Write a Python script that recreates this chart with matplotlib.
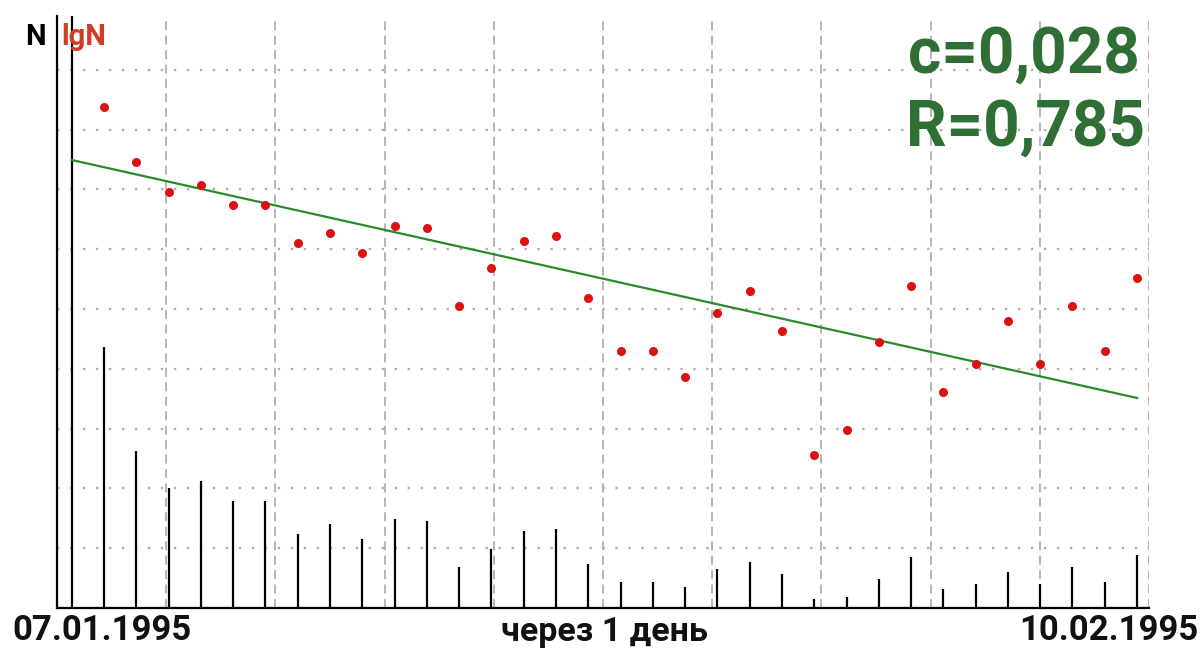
import numpy as np
import matplotlib
matplotlib.use("Agg")
import matplotlib.pyplot as plt
from matplotlib.ticker import LinearLocator, MultipleLocator

# days after 07.01.1995, one step = 1 day
days = list(range(1, 34))
# N per day (bars)
n_vals = [436, 263, 201, 212, 179, 179, 124, 140, 115, 149, 145, 69, 99, 129, 132,
          74, 43, 43, 35, 65, 77, 57, 15, 18, 48, 85, 32, 40, 60, 40, 69, 43, 89]
# lgN per day (red dots)
lgn_vals = [2.594, 2.365, 2.239, 2.268, 2.185, 2.185, 2.026, 2.068, 1.984, 2.097, 2.089,
            1.763, 1.921, 2.034, 2.055, 1.796, 1.574, 1.574, 1.466, 1.733, 1.825, 1.658,
            1.140, 1.244, 1.612, 1.846, 1.403, 1.520, 1.700, 1.520, 1.763, 1.574, 1.880]
# fitted line, ends
trend_days = [0, 33]
trend_lgn = [2.373, 1.378]

start_label = "07.01.1995"
end_label = "10.02.1995"
step_label = "через 1 день"
c_label = "c=0,028"
r_label = "R=0,785"

plt.rcParams["font.family"] = ["Roboto", "DejaVu Sans"]
plt.rcParams["xtick.major.size"] = 0
plt.rcParams["ytick.major.size"] = 0

fig = plt.figure(figsize=(12.02, 6.51), dpi=100)
ax = fig.add_axes([57 / 1202, 1 - 608 / 651, (1149 - 57) / 1202, (608 - 16) / 651])
ax.set_xlim(-0.455, 33.37)
ax.set_ylim(0, 990)

ax2 = ax.twinx()
ax2.set_ylim(0.5, 2.975)
ax2.set_xlim(ax.get_xlim())
ax2.axis("off")

grid_c = "#b0b0b0"
ax.xaxis.set_major_locator(LinearLocator(11))
ax.yaxis.set_major_locator(MultipleLocator(100))
ax.grid(axis="x", color=grid_c, lw=1.3, linestyle=(0, (5, 3)))
ax.grid(axis="y", color=grid_c, lw=1.7, linestyle=(0, (1, 4.5)))
ax.tick_params(which="both", length=0, labelleft=False, labelbottom=False,
               labelright=False, labeltop=False)
for s in ["top", "right"]:
    ax.spines[s].set_visible(False)
ax.spines["left"].set_linewidth(1.6)
ax.spines["bottom"].set_linewidth(1.6)

ax.vlines(days, 0, n_vals, color="black", lw=1.6)
ax.axvline(0, color="black", lw=1.6)

ax2.plot(trend_days, trend_lgn, color="#2a8a2a", lw=1.6)
ax2.plot(days, lgn_vals, "o", color="#dd1111", ms=6.5, mec="none")

bold = dict(fontweight="bold")
fig.text(25 / 1202, 1 - 45 / 651, "N", fontsize=21, color="black", **bold)
fig.text(61 / 1202, 1 - 45 / 651, "lgN", fontsize=21, color="#d23c22", **bold)
fig.text(1140 / 1202, 1 - 73 / 651, c_label, fontsize=46, color="#2f6e35", ha="right", **bold)
fig.text(1145 / 1202, 1 - 146 / 651, r_label, fontsize=46, color="#2f6e35", ha="right", **bold)
fig.text(12 / 1202, 1 - 640 / 651, start_label, fontsize=25, color="#111111", **bold)
fig.text(1198 / 1202, 1 - 640 / 651, end_label, fontsize=25, color="#111111", ha="right", **bold)
fig.text(604 / 1202, 1 - 641 / 651, step_label, fontsize=24.5, color="#111111", ha="center", **bold)

fig.savefig("out.png", dpi=100)
